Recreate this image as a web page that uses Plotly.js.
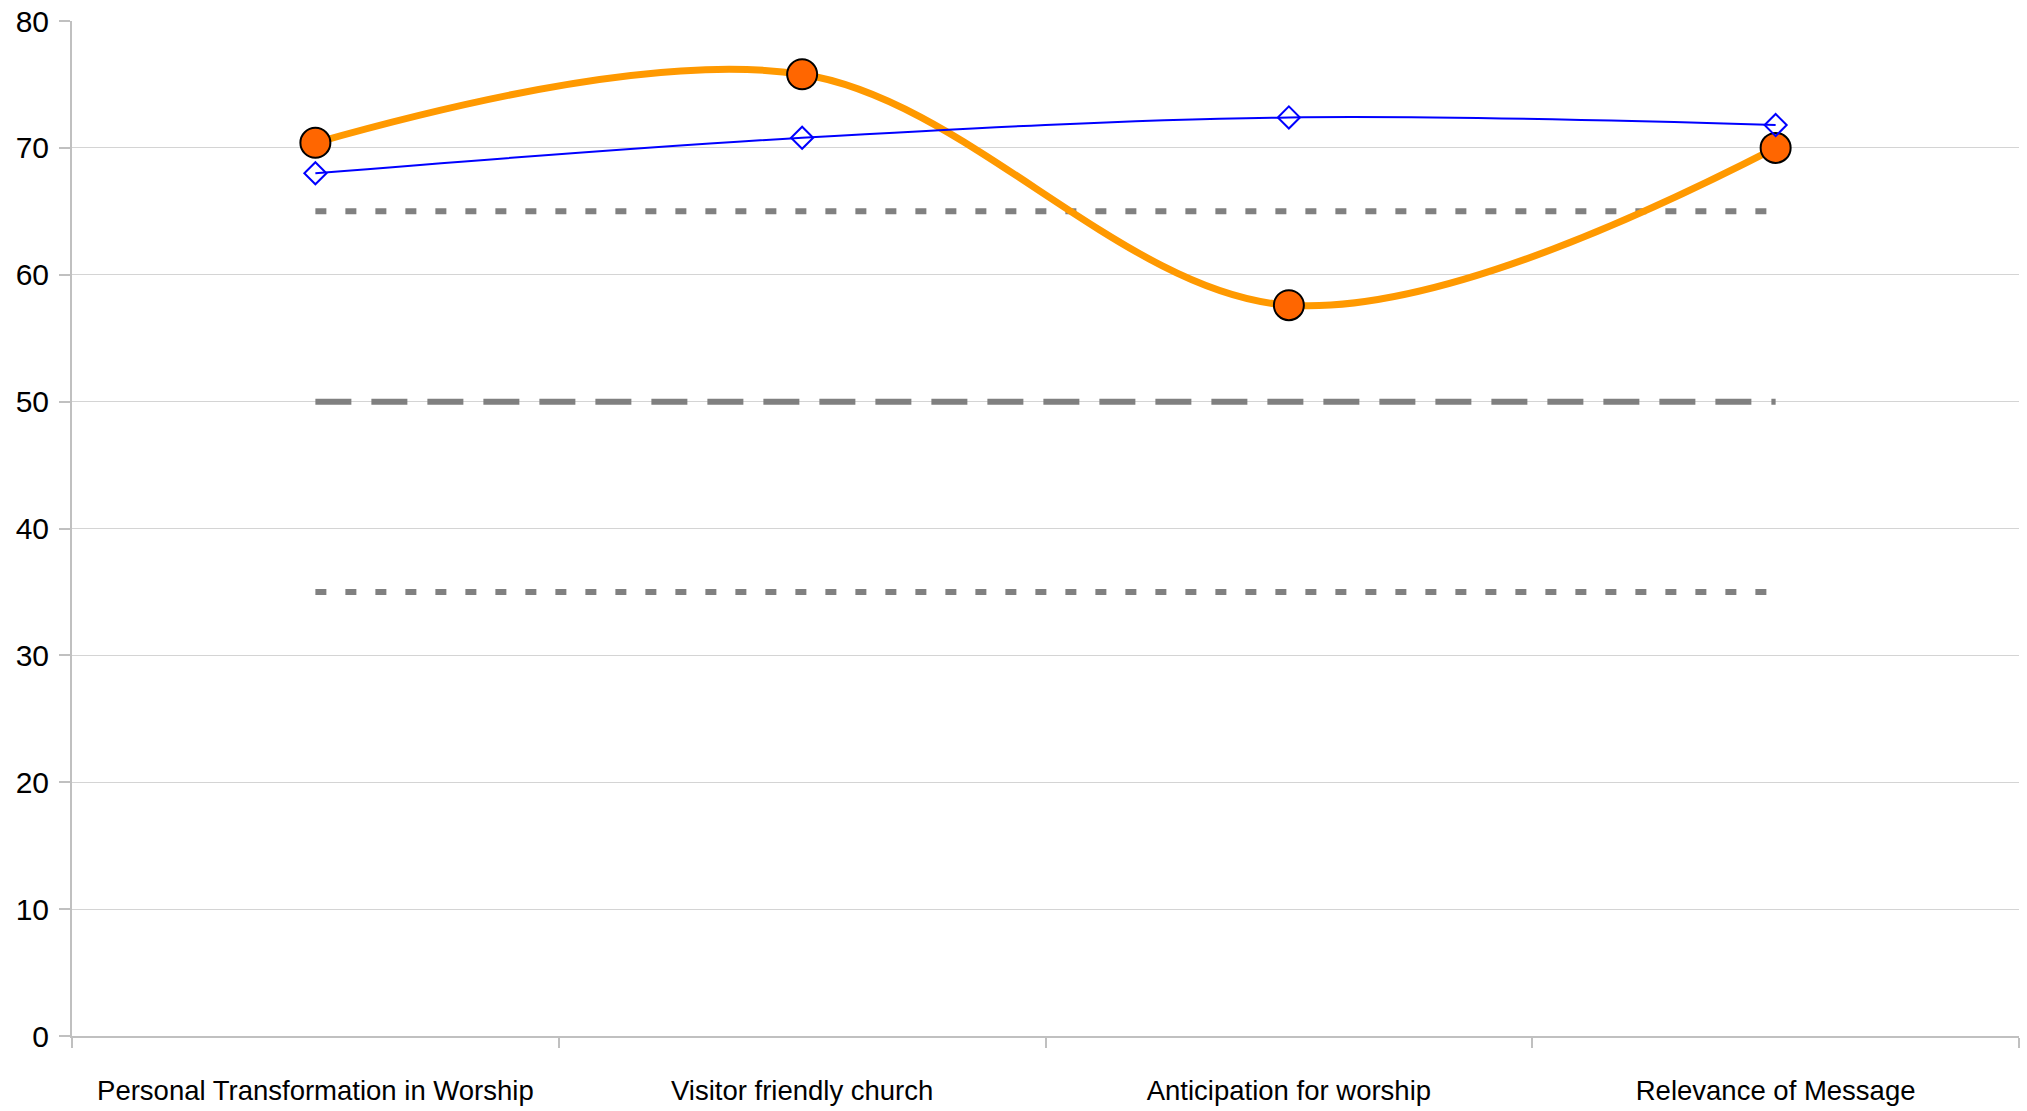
<!DOCTYPE html>
<html>
<head>
<meta charset="utf-8">
<script src="https://cdn.plot.ly/plotly-3.0.1.min.js"></script>
<style>html,body{margin:0;padding:0;background:#fff;}#chart{width:2027px;height:1111px;}</style>
</head>
<body>
<div id="chart"></div>
<script>
var categories = ["Personal Transformation in Worship", "Visitor friendly church", "Anticipation for worship", "Relevance of Message"];
var churchScores = [70.4, 75.8, 57.6, 70.0];
var comparisonScores = [68.0, 70.8, 72.4, 71.8];
var upperBand = [65, 65, 65, 65];
var midLine = [50, 50, 50, 50];
var lowerBand = [35, 35, 35, 35];
var yTicks = [0, 10, 20, 30, 40, 50, 60, 70, 80];

var refLine = function (vals, dash) {
  return {
    x: categories, y: vals, type: 'scatter', mode: 'lines',
    line: {color: '#808080', width: 6, dash: dash},
    hoverinfo: 'skip', showlegend: false
  };
};

var traces = [
  refLine(upperBand, '11px,19px'),
  refLine(midLine, '36px,20px'),
  refLine(lowerBand, '11px,19px'),
  {
    x: categories, y: churchScores, type: 'scatter', mode: 'lines+markers',
    line: {color: '#FF9900', width: 7, shape: 'spline', smoothing: 1},
    marker: {symbol: 'circle', size: 30, color: '#FF6600', line: {color: '#000000', width: 2}},
    showlegend: false
  },
  {
    x: categories, y: comparisonScores, type: 'scatter', mode: 'lines+markers',
    line: {color: '#0000FF', width: 2, shape: 'spline', smoothing: 1},
    marker: {symbol: 'diamond-open', size: 17, color: '#0000FF', line: {color: '#0000FF', width: 2}},
    showlegend: false
  }
];

var layout = {
  width: 2027, height: 1111,
  margin: {l: 72, r: 8, t: 21, b: 75},
  paper_bgcolor: '#ffffff', plot_bgcolor: '#ffffff',
  showlegend: false,
  font: {family: 'Liberation Sans, Arial, sans-serif', color: '#000000'},
  xaxis: {
    type: 'category', range: [-0.5, 3.5],
    showgrid: false, zeroline: false,
    showline: true, linecolor: '#c0c0c0', linewidth: 2,
    ticks: 'outside', tickson: 'boundaries', ticklen: 10, tickcolor: '#c0c0c0', tickwidth: 2,
    tickfont: {size: 27.5, color: '#000000'},
    ticklabelstandoff: 29
  },
  yaxis: {
    range: [0, 80], tickvals: yTicks,
    showgrid: true, gridcolor: '#d4d4d4', gridwidth: 1,
    zeroline: false,
    showline: true, linecolor: '#c0c0c0', linewidth: 2,
    ticks: 'outside', ticklen: 11, tickcolor: '#c0c0c0', tickwidth: 2,
    tickfont: {size: 30, color: '#000000'},
    ticklabelstandoff: 4
  }
};

Plotly.newPlot('chart', traces, layout, {displayModeBar: false, staticPlot: true});
</script>
</body>
</html>
